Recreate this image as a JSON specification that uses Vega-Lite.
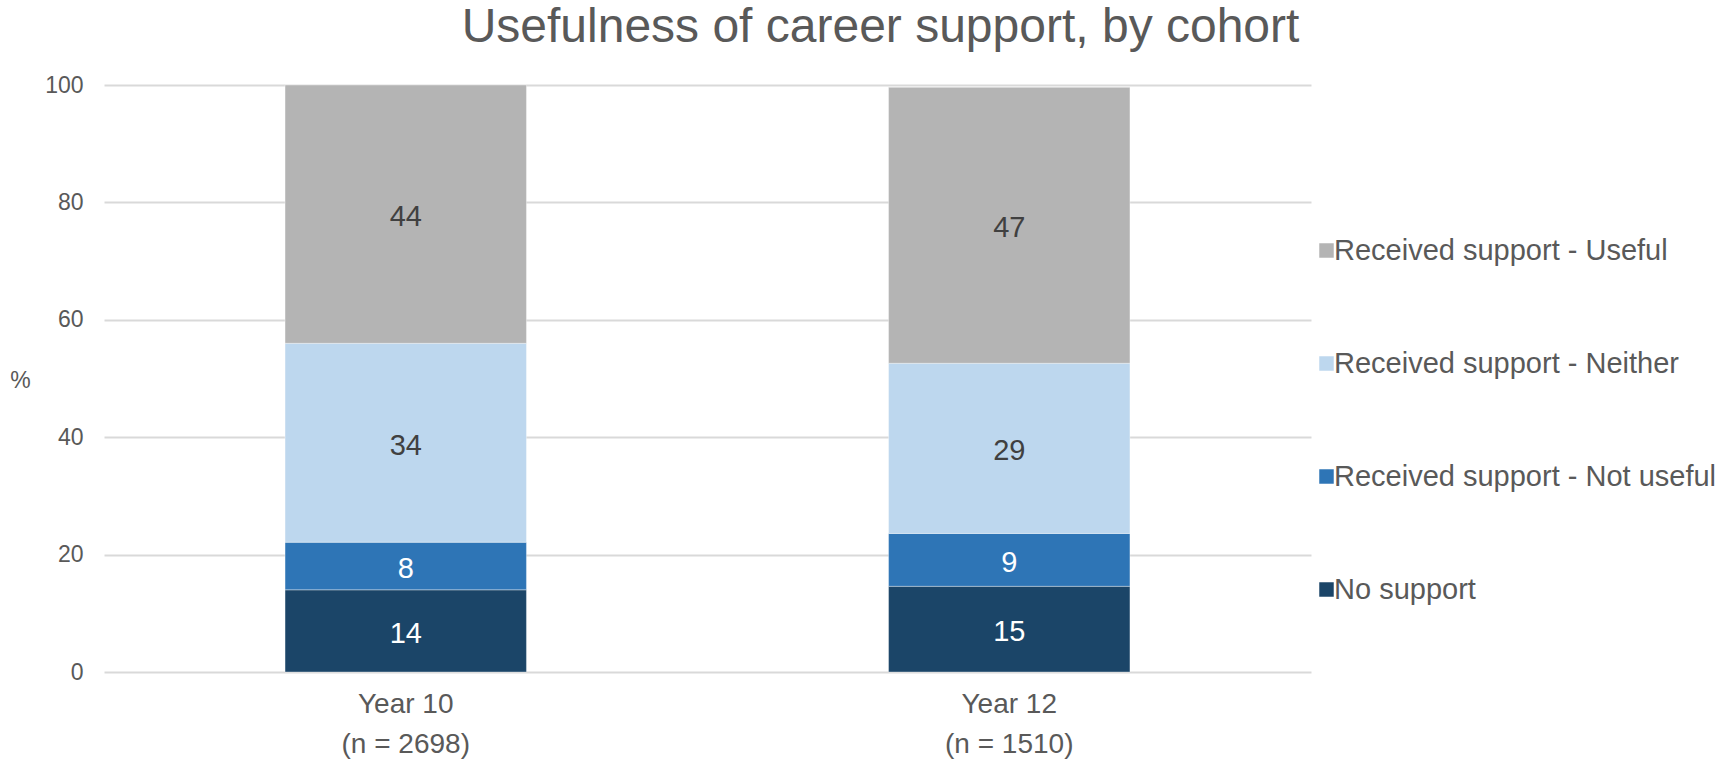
{
  "$schema": "https://vega.github.io/schema/vega-lite/v6.json",
  "autosize": "none",
  "width": 1207,
  "height": 587,
  "padding": {"left": 104, "top": 85, "right": 413, "bottom": 89},
  "background": "white",
  "config": {"view": {"stroke": null}},
  "title": {
    "text": "Usefulness of career support, by cohort",
    "fontSize": 48,
    "font": "Liberation Sans",
    "fontWeight": "normal",
    "color": "#595959",
    "anchor": "middle",
    "frame": "group",
    "dx": 173,
    "baseline": "alphabetic",
    "offset": -16
  },
  "data": {
    "values": [
      {"cohort": "Year 10|(n = 2698)", "category": "No support", "seg": 1, "value": 14.0},
      {"cohort": "Year 10|(n = 2698)", "category": "Received support - Not useful", "seg": 2, "value": 8.1},
      {"cohort": "Year 10|(n = 2698)", "category": "Received support - Neither", "seg": 3, "value": 33.9},
      {"cohort": "Year 10|(n = 2698)", "category": "Received support - Useful", "seg": 4, "value": 44.0},
      {"cohort": "Year 12|(n = 1510)", "category": "No support", "seg": 1, "value": 14.6},
      {"cohort": "Year 12|(n = 1510)", "category": "Received support - Not useful", "seg": 2, "value": 9.0},
      {"cohort": "Year 12|(n = 1510)", "category": "Received support - Neither", "seg": 3, "value": 29.0},
      {"cohort": "Year 12|(n = 1510)", "category": "Received support - Useful", "seg": 4, "value": 47.0}
    ]
  },
  "transform": [
    {"stack": "value", "groupby": ["cohort"], "sort": [{"field": "seg", "order": "ascending"}], "as": ["v0", "v1"]},
    {"calculate": "(datum.v0 + datum.v1) / 2", "as": "mid"}
  ],
  "encoding": {
    "x": {
      "field": "cohort",
      "type": "nominal",
      "sort": null,
      "title": null,
      "scale": {"paddingInner": 0.6, "paddingOuter": 0.3},
      "axis": {
        "labelExpr": "split(datum.label, '|')",
        "labelAngle": 0,
        "labelFontSize": 28,
        "labelFont": "Liberation Sans",
        "labelColor": "#595959",
        "labelPadding": 18,
        "labelLineHeight": 40,
        "ticks": false,
        "domain": false,
        "grid": false
      }
    }
  },
  "layer": [
    {
      "mark": {"type": "bar", "stroke": "#ffffff", "strokeOpacity": 0.35, "strokeWidth": 1},
      "encoding": {
        "y": {
          "field": "v1",
          "type": "quantitative",
          "scale": {"domain": [0, 100], "nice": false},
          "title": "%",
          "axis": {
            "values": [0, 20, 40, 60, 80, 100],
            "labelFontSize": 23,
            "labelFont": "Liberation Sans",
            "labelColor": "#595959",
            "labelPadding": 21,
            "ticks": false,
            "domain": false,
            "gridColor": "#d9d9d9",
            "gridWidth": 2,
            "titleAngle": 0,
            "titleFont": "Liberation Sans",
            "titleFontWeight": "normal",
            "titleFontSize": 23,
            "titleColor": "#595959",
            "titleX": -84,
            "titleY": 295,
            "titleAlign": "center",
            "titleBaseline": "middle"
          }
        },
        "y2": {"field": "v0"},
        "color": {
          "field": "category",
          "type": "nominal",
          "scale": {
            "domain": ["Received support - Useful", "Received support - Neither", "Received support - Not useful", "No support"],
            "range": ["#b4b4b4", "#bdd7ee", "#2e75b6", "#1b4568"]
          },
          "legend": {
            "title": null,
            "orient": "none",
            "legendX": 1208,
            "legendY": 151,
            "padding": 0,
            "symbolType": "square",
            "symbolSize": 210,
            "symbolStrokeWidth": 0,
            "labelFontSize": 29,
            "labelFont": "Liberation Sans",
            "labelColor": "#595959",
            "labelOffset": -7,
            "rowPadding": 83,
            "labelLimit": 500
          }
        }
      }
    },
    {
      "mark": {"type": "text", "fontSize": 29, "font": "Liberation Sans", "baseline": "middle", "align": "center", "dy": 3},
      "encoding": {
        "y": {"field": "mid", "type": "quantitative"},
        "text": {"field": "value", "type": "quantitative", "format": ".0f"},
        "color": {
          "condition": {"test": "datum.seg <= 2", "value": "#ffffff"},
          "value": "#404040"
        }
      }
    }
  ]
}
